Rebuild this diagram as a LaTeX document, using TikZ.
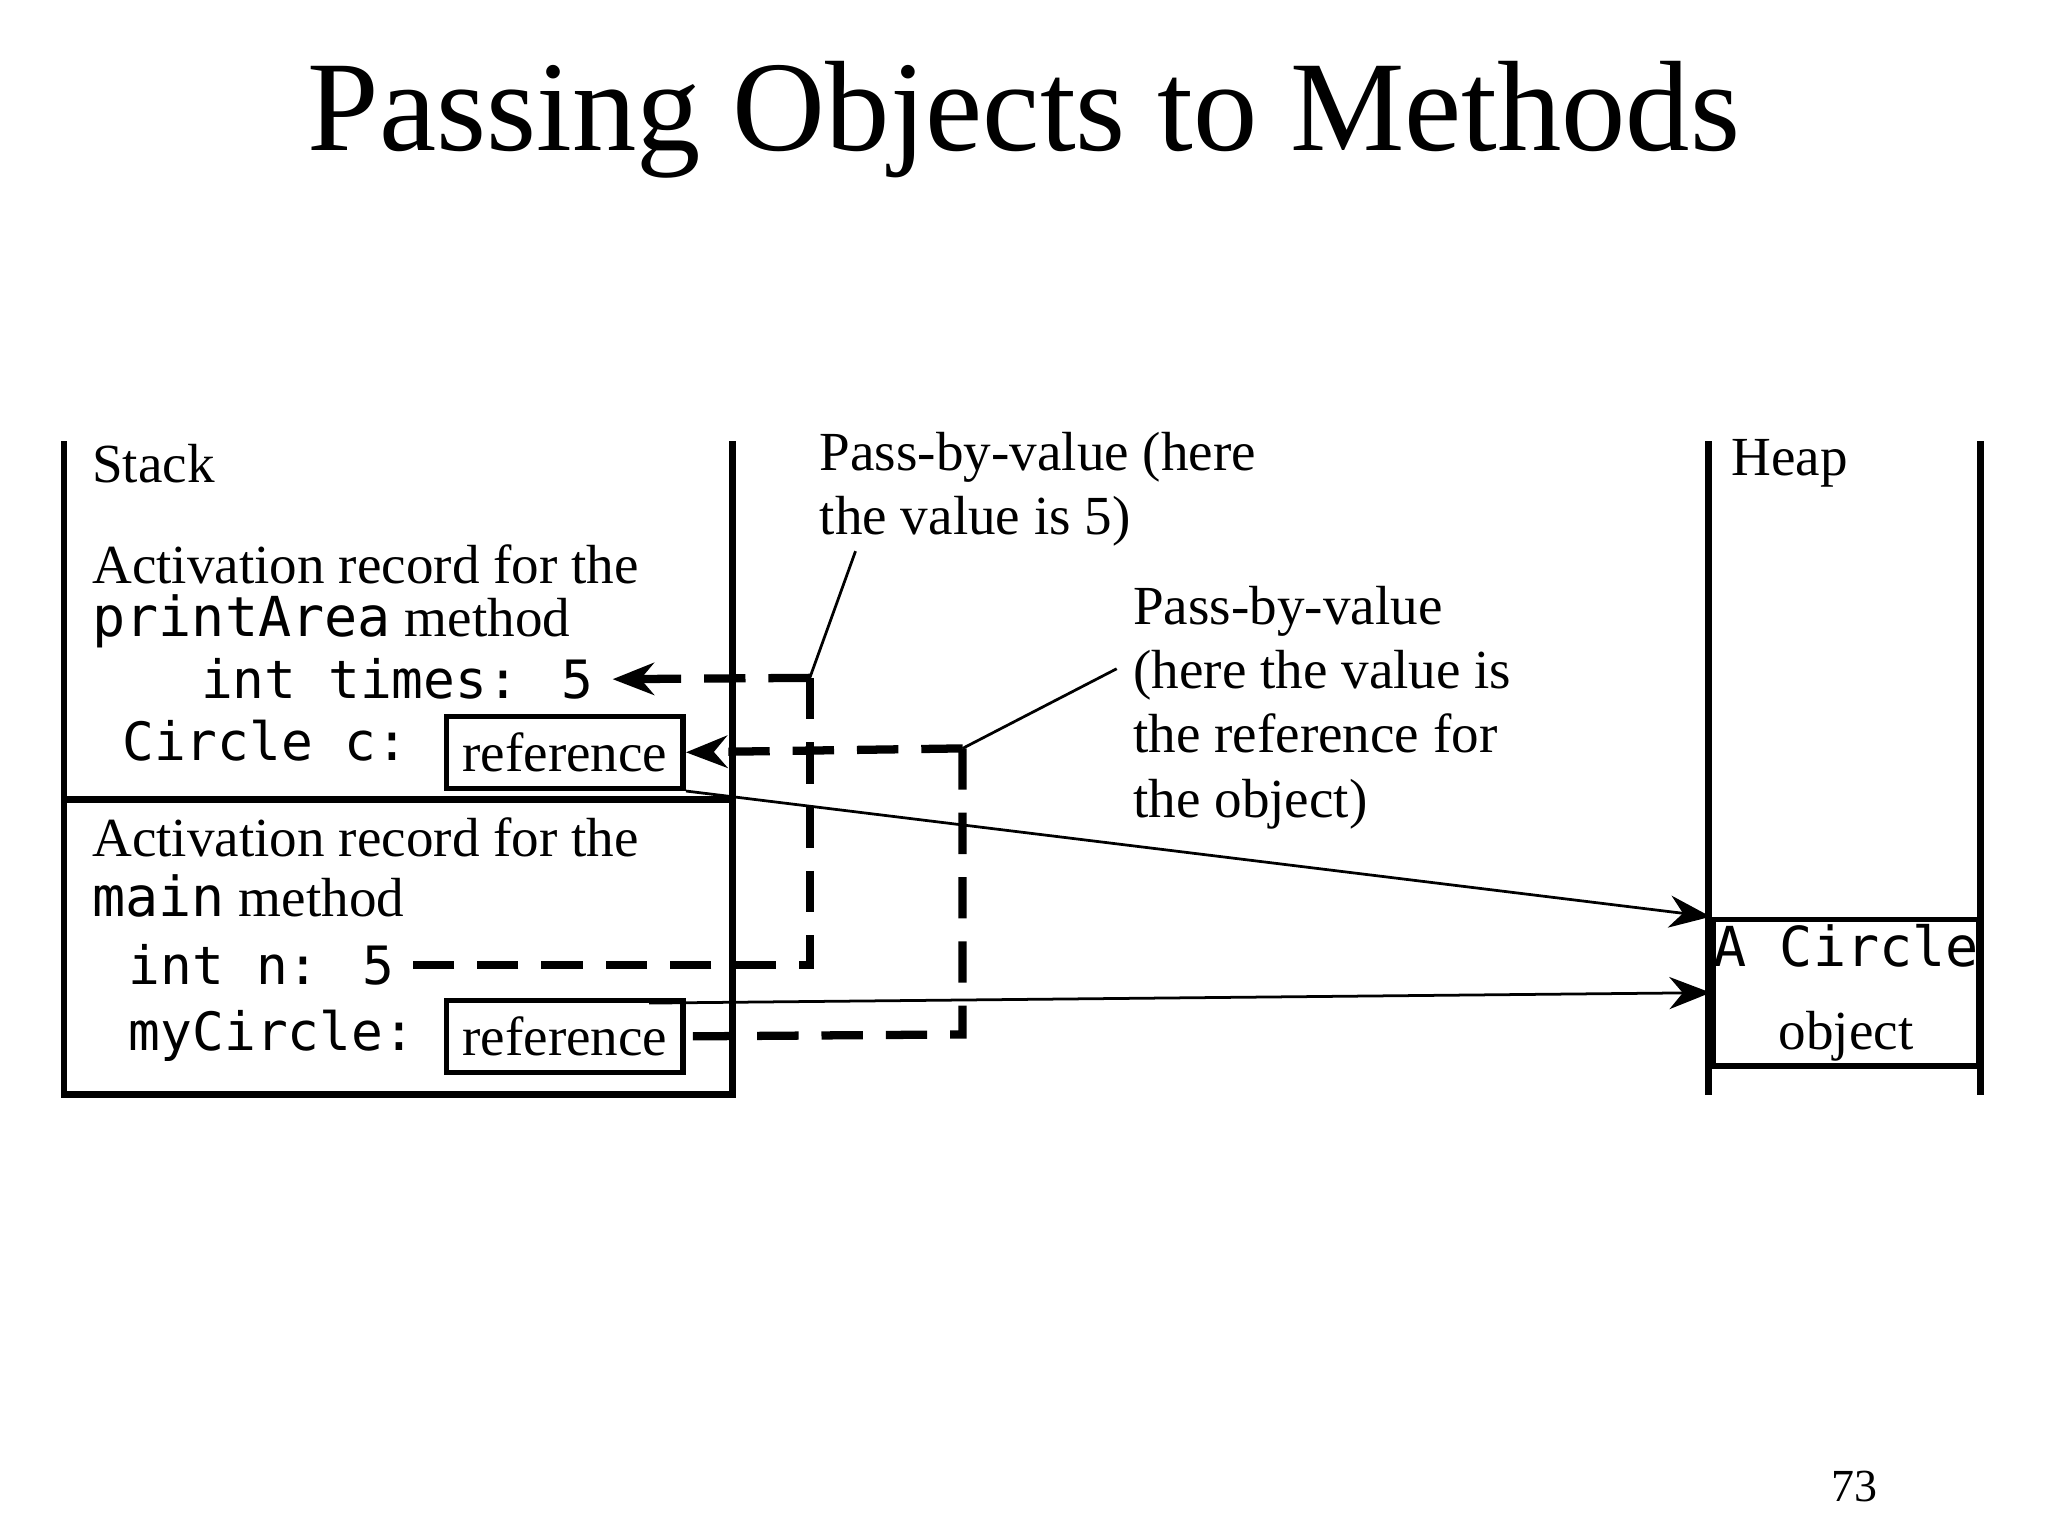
\documentclass[tikz,border=0pt]{standalone}
\usepackage{fontspec}
\setmainfont{Liberation Serif}
\newfontfamily\codefont{DejaVu Sans Mono}
\usetikzlibrary{arrows.meta}
\begin{document}
\begin{tikzpicture}[x=0.01cm,y=-0.01cm,
  txt/.style={anchor=west,inner sep=0pt,font=\fontsize{12}{14}\selectfont},
  cd/.style={anchor=west,inner sep=0pt,font=\codefont\fontsize{11.5}{14}\selectfont},
  refbox/.style={draw,line width=1.2pt,inner sep=0pt,minimum width=1.81cm,minimum height=0.55cm,font=\fontsize{12}{14}\selectfont},
  wall/.style={line width=1.5pt},
  dsh/.style={line width=1.8pt,dash pattern=on 9pt off 5pt},
  tip/.style={-{Stealth[length=9pt,width=7pt]}}]
\useasboundingbox (0,0) rectangle (1568,1176);
\node[font=\fontsize{28}{34}\selectfont] (title) at (784,92) {Passing Objects to Methods};
% stack
\draw[wall] (49,338) -- (49,838) -- (561,838) -- (561,338);
\draw[wall] (49,612) -- (561,612);
\draw[wall] (1308,338) -- (1308,838);
\draw[wall] (1516,338) -- (1516,838);
\node[txt] (stack) at (70,355) {Stack};
\node[txt] (heap) at (1325,355) {Heap};
\node[txt] (ar1) at (70,432) {Activation record for the};
\node[txt] (ar1b) at (70,476) {{\codefont printArea} method};
\node[cd,anchor=east] (times) at (455,520) {int times: 5};
\node[cd] (cc) at (93,567) {Circle c:};
\node[refbox] (r1) at (432.5,576) {reference};
\node[txt] (ar2) at (70,641) {Activation record for the};
\node[txt] (ar2b) at (70,686) {{\codefont main} method};
\node[cd] (nn) at (98,739) {int n: 5};
\node[cd] (mc) at (98,793) {myCircle:};
\node[refbox] (r2) at (432.5,793.5) {reference};
\node[draw,line width=1.2pt,minimum width=1.91cm,minimum height=1.12cm,inner sep=0pt,align=center,font=\fontsize{12}{14}\selectfont] (obj) at (1413.5,760) {{\codefont A Circle}\\[4pt]object};
% callouts
\node[txt,align=left,anchor=north west] (c1) at (627,330) {Pass-by-value (here\\the value is 5)};
\node[txt,align=left,anchor=north west] (c2) at (867,448) {Pass-by-value\\(here the value is\\the reference for\\the object)};
\coordinate (d1a) at (620,519);
\coordinate (d1b) at (620,739);
\coordinate (d2a) at (737,573);
\coordinate (d2b) at (737,792);
\draw[dsh,tip] (d1a) -- ([xshift=4pt]times.east);
\draw[dsh] (d1a) -- (d1b) -- ([xshift=4pt]nn.east);
\draw[dsh,tip] (d2a) -- (r1.east);
\draw[dsh] (d2a) -- (d2b) -- (r2.east);
\draw[line width=0.6pt] (655,422) -- (d1a);
\draw[line width=0.6pt] (855,512) -- (d2a);
\draw[line width=0.6pt,tip] (r1.south east) -- (obj.north west);
\draw[line width=0.6pt,tip] (497,768) -- (obj.west);
\node[font=\fontsize{10}{12}\selectfont] (pg) at (1420,1138) {73};
\end{tikzpicture}
\end{document}
